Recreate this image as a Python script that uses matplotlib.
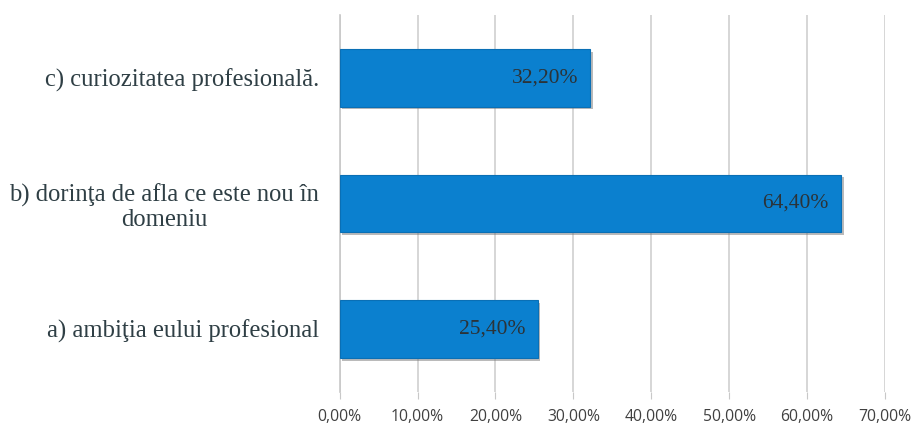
import matplotlib
matplotlib.use("Agg")
import matplotlib.pyplot as plt
import matplotlib.patheffects as pe

categories = ["a) ambiţia eului profesional",
              "b) dorinţa de afla ce este nou în\ndomeniu",
              "c) curiozitatea profesională."]
values = [25.4, 64.4, 32.2]
value_labels = ["25,40%", "64,40%", "32,20%"]
xticks = [0, 10, 20, 30, 40, 50, 60, 70]
xtick_labels = ["0,00%", "10,00%", "20,00%", "30,00%", "40,00%", "50,00%", "60,00%", "70,00%"]

fig = plt.figure(figsize=(9.18, 4.26), dpi=100)
ax = fig.add_axes([0.370, 0.080, 0.594, 0.885])

ypos = list(range(len(categories)))
bars = ax.barh(ypos, values, height=0.46, color="#0b80cf", edgecolor="#0a6fb5",
               linewidth=0.8, zorder=3)
for b in bars:
    b.set_path_effects([pe.SimplePatchShadow(offset=(2, -2), shadow_rgbFace="#777777", alpha=0.5),
                        pe.Normal()])

for y, v, lab in zip(ypos, values, value_labels):
    ax.text(v - 1.6, y, lab, ha="right", va="center", fontsize=15.5,
            family="Liberation Serif", color="#2b3338", zorder=4)

ax.set_xlim(0, 70)
ax.set_ylim(-0.5, 2.5)
ax.set_xticks(xticks)
ax.set_xticklabels(xtick_labels, fontsize=11.3, family="Open Sans", color="#404040")
ax.set_yticks(ypos)
ax.set_yticklabels(categories, fontsize=17.7, family="Liberation Serif", color="#2f3f45",
                   multialignment="center", linespacing=1.15)
ax.tick_params(axis="y", length=0, pad=15)
ax.tick_params(axis="x", length=5, color="#c8c8c8", pad=7)
ax.grid(axis="x", color="#cfcfcf", linewidth=1.2, zorder=0)
for s in ["top", "right", "bottom"]:
    ax.spines[s].set_visible(False)
ax.spines["left"].set_color("#c8c8c8")
ax.spines["left"].set_linewidth(1.2)

fig.savefig("out.png", dpi=100)
